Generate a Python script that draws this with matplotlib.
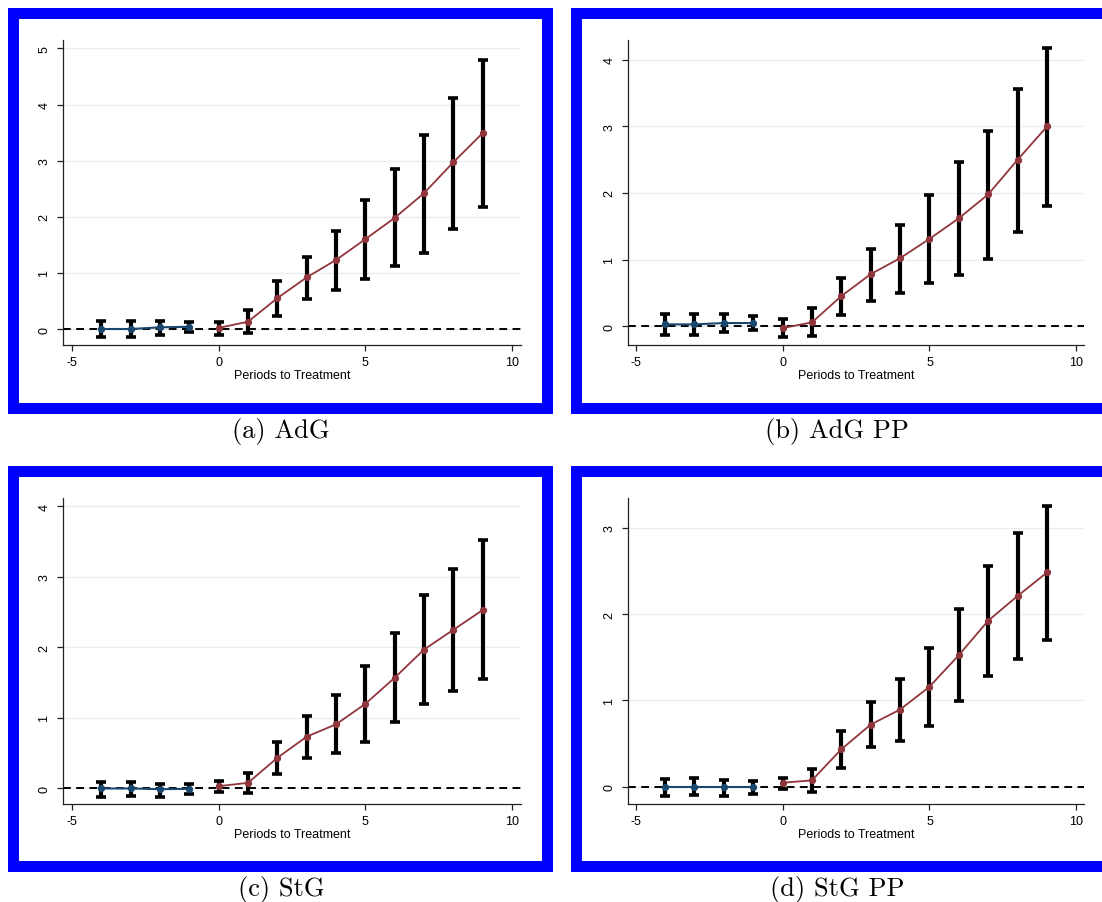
import matplotlib
matplotlib.use("Agg")
import matplotlib.pyplot as plt
from matplotlib.patches import Rectangle

# periods relative to treatment
periods = [-4, -3, -2, -1, 0, 1, 2, 3, 4, 5, 6, 7, 8, 9]

# (a) AdG
adg_coef = [0.00, 0.00, 0.03, 0.04, 0.02, 0.13, 0.55, 0.92, 1.23, 1.60, 1.98, 2.42, 2.97, 3.49]
adg_lo = [-0.14, -0.14, -0.10, -0.05, -0.10, -0.08, 0.24, 0.54, 0.70, 0.90, 1.12, 1.36, 1.79, 2.18]
adg_hi = [0.15, 0.14, 0.14, 0.12, 0.13, 0.34, 0.85, 1.29, 1.74, 2.29, 2.85, 3.45, 4.12, 4.79]

# (b) AdG PP
adgpp_coef = [0.025, 0.025, 0.045, 0.045, -0.03, 0.055, 0.45, 0.78, 1.02, 1.31, 1.62, 1.98, 2.50, 3.00]
adgpp_lo = [-0.135, -0.135, -0.09, -0.06, -0.17, -0.155, 0.165, 0.375, 0.49, 0.65, 0.77, 1.01, 1.42, 1.80]
adgpp_hi = [0.185, 0.185, 0.175, 0.15, 0.105, 0.265, 0.72, 1.155, 1.52, 1.97, 2.46, 2.93, 3.57, 4.18]

# (c) StG
stg_coef = [0.00, 0.00, -0.01, -0.005, 0.033, 0.08, 0.435, 0.735, 0.91, 1.20, 1.57, 1.97, 2.25, 2.53]
stg_lo = [-0.115, -0.10, -0.12, -0.085, -0.047, -0.07, 0.21, 0.43, 0.50, 0.66, 0.94, 1.20, 1.38, 1.55]
stg_hi = [0.09, 0.09, 0.07, 0.066, 0.10, 0.22, 0.66, 1.03, 1.32, 1.74, 2.20, 2.74, 3.12, 3.52]

# (d) StG PP
stgpp_coef = [0.00, 0.00, 0.00, 0.00, 0.046, 0.074, 0.434, 0.72, 0.894, 1.158, 1.525, 1.924, 2.21, 2.482]
stgpp_lo = [-0.11, -0.10, -0.11, -0.08, -0.03, -0.06, 0.22, 0.465, 0.534, 0.708, 0.995, 1.278, 1.483, 1.703]
stgpp_hi = [0.093, 0.10, 0.08, 0.062, 0.105, 0.20, 0.64, 0.98, 1.243, 1.607, 2.056, 2.563, 2.942, 3.248]

captions = ["(a) AdG", "(b) AdG PP", "(c) StG", "(d) StG PP"]
yticks_list = [[0, 1, 2, 3, 4, 5], [0, 1, 2, 3, 4], [0, 1, 2, 3, 4], [0, 1, 2, 3]]
ylims = [(-0.285, 5.15), (-0.285, 4.30), (-0.22, 4.12), (-0.20, 3.345)]

W, H = 1102, 903
fig = plt.figure(figsize=(W / 100, H / 100), dpi=100)
plt.rcParams['font.family'] = ['Liberation Sans', 'DejaVu Sans']
plt.rcParams['axes.unicode_minus'] = False

navy = '#1a476f'
maroon = '#90353b'
blue = '#0000ff'


def px_rect(x0, y0, x1, y1):
    # pixel box (top-left origin) -> figure fraction [l, b, w, h]
    return [x0 / W, 1 - y1 / H, (x1 - x0) / W, (y1 - y0) / H]


def frame(x0, y0, x1, y1, t=11):
    l, b, w, h = px_rect(x0, y0, x1, y1)
    fig.add_artist(Rectangle((l, b), w, h, transform=fig.transFigure,
                             facecolor=blue, edgecolor='none', zorder=-2))
    l, b, w, h = px_rect(x0 + t, y0 + t, x1 - t, y1 - t)
    fig.add_artist(Rectangle((l, b), w, h, transform=fig.transFigure,
                             facecolor='white', edgecolor='none', zorder=-1))


# frames (outer pixel boxes); right panels run past the image edge
frames = [(8, 9, 553, 415), (571, 9, 1115, 415), (8, 467, 553, 873), (571, 467, 1115, 873)]
for fr in frames:
    frame(*fr)

axes_px = [(63, 41, 521, 346), (628, 41, 1084, 346), (63, 499, 521, 805), (628, 499, 1084, 805)]
xlims = [(-5.31, 10.31), (-5.26, 10.26), (-5.31, 10.31), (-5.26, 10.26)]
caption_pos = [(281, 432), (837, 432), (281, 890), (837, 890)]

data = [(adg_coef, adg_lo, adg_hi), (adgpp_coef, adgpp_lo, adgpp_hi),
        (stg_coef, stg_lo, stg_hi), (stgpp_coef, stgpp_lo, stgpp_hi)]

for i in range(4):
    ax = fig.add_axes(px_rect(*axes_px[i]))
    ax.patch.set_alpha(0)
    coef, lo, hi = data[i]
    err = [[c - l for c, l in zip(coef, lo)], [h - c for c, h in zip(coef, hi)]]

    ax.axhline(0, color='black', lw=1.4, ls=(0, (4, 2.8)), zorder=2)
    ax.errorbar(periods, coef, yerr=err, fmt='none', ecolor='black',
                elinewidth=3.0, capsize=3.3, capthick=2.6, zorder=3)
    ax.plot(periods[:4], coef[:4], color=navy, lw=1.5, marker='o', ms=4.2, zorder=4)
    ax.plot(periods[4:], coef[4:], color=maroon, lw=1.3, marker='o', ms=4.2, zorder=4)

    ax.set_xlim(*xlims[i])
    ax.set_ylim(*ylims[i])
    ax.set_xticks([-5, 0, 5, 10])
    ax.set_yticks(yticks_list[i])
    ax.yaxis.grid(True, color='#e6eef1', lw=1.0, zorder=0)
    ax.set_axisbelow(True)
    for s in ['top', 'right']:
        ax.spines[s].set_visible(False)
    for s in ['left', 'bottom']:
        ax.spines[s].set_color('#222222')
        ax.spines[s].set_linewidth(0.9)
    ax.tick_params(axis='both', length=4, width=0.9, color='#222222',
                   labelsize=9, direction='out')
    ax.tick_params(axis='x', pad=4)
    ax.tick_params(axis='y', pad=5, labelrotation=90)
    for lab in ax.get_yticklabels():
        lab.set_va('center')
    ax.set_xlabel("Periods to Treatment", fontsize=9, labelpad=1)

    cx, cy = caption_pos[i]
    fig.text(cx / W, 1 - cy / H, captions[i], family='cmr10', fontsize=19,
             ha='center', va='center')

fig.savefig("out.png", dpi=100)
